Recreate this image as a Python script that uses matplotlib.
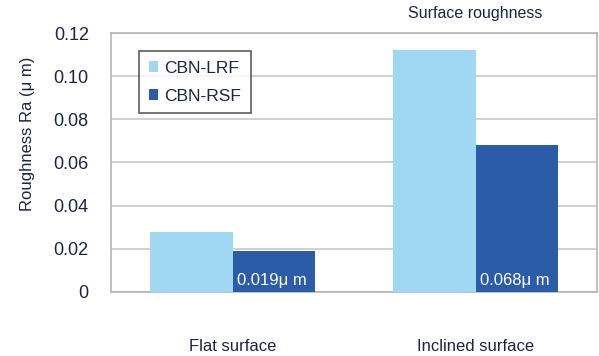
import matplotlib.pyplot as plt
import numpy as np

surfaces = ["Flat surface", "Inclined surface"]
lrf_values = [0.028, 0.112]
rsf_values = [0.019, 0.068]
rsf_labels = ["0.019\u03bc m", "0.068\u03bc m"]
y_ticks = [0, 0.02, 0.04, 0.06, 0.08, 0.10, 0.12]
y_tick_labels = ["0", "0.02", "0.04", "0.06", "0.08", "0.10", "0.12"]

plt.rcParams['font.family'] = ['Liberation Sans', 'DejaVu Sans']
text_color = "#1c2540"
light_blue = "#a0d8f4"
dark_blue = "#2a5ca8"
grid_gray = "#c8c8c8"

fig = plt.figure(figsize=(5.99, 3.56), dpi=100)
ax = fig.add_axes([0.1853, 0.1798, 0.8114, 0.7275])

x = np.arange(len(surfaces))
width = 0.34
ax.bar(x - width / 2, lrf_values, width, color=light_blue, label="CBN-LRF", zorder=3)
bars = ax.bar(x + width / 2, rsf_values, width, color=dark_blue, label="CBN-RSF", zorder=3)

# value labels sit inside the dark bars, near the base
for b, txt in zip(bars, rsf_labels):
    ax.text(b.get_x() + 0.018, 0.0033, txt, color="white", fontsize=12,
            ha="left", va="baseline", zorder=4)

ax.set_xlim(-0.5, 1.5)
ax.set_ylim(0, 0.12)
ax.set_yticks(y_ticks)
ax.set_yticklabels(y_tick_labels, fontsize=13)
ax.set_xticks(x)
ax.set_xticklabels(surfaces, fontsize=12)
ax.tick_params(axis="x", length=0, pad=34, colors=text_color)
ax.tick_params(axis="y", length=0, pad=16, colors=text_color)
ax.yaxis.grid(True, color=grid_gray, linewidth=1.2, zorder=0)
for s in ax.spines.values():
    s.set_color("#b4b4b4")
    s.set_linewidth(1.2)

ax.set_ylabel("Roughness Ra (\u03bc m)", fontsize=12, color=text_color)
ax.yaxis.set_label_coords(-0.156, 0.61)
ax.text(0.75, 1.045, "Surface roughness", transform=ax.transAxes, fontsize=11.5,
        color=text_color, ha="center", va="bottom")

leg = ax.legend(loc="upper left", bbox_to_anchor=(0.0576, 0.930), borderaxespad=0,
                prop={"size": 12.5}, frameon=True, fancybox=False,
                handlelength=0.55, handleheight=0.55, handletextpad=0.35,
                labelspacing=0.75, borderpad=0.55, labelcolor=text_color)
leg.get_frame().set_edgecolor("#333333")
leg.get_frame().set_linewidth(1.2)

fig.savefig("out.png", dpi=100)
